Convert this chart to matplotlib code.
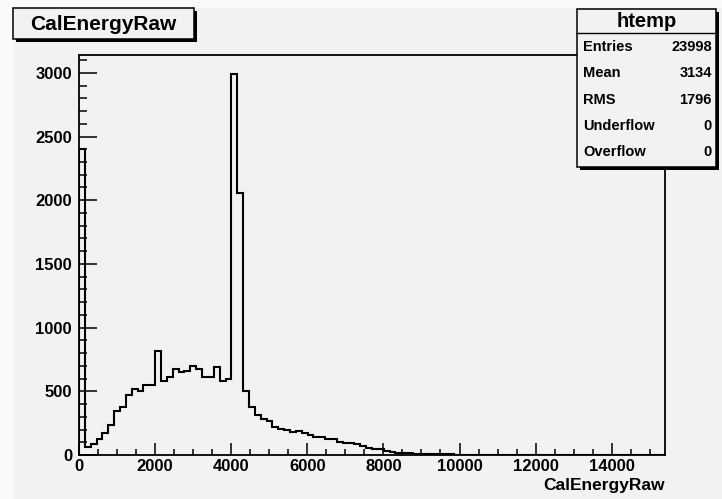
"""
plot.py — ROOT-style histogram of CalEnergyRaw (htemp).
"""

import numpy as np
import matplotlib
matplotlib.use("Agg")
import matplotlib.pyplot as plt
from matplotlib.patches import Rectangle
from matplotlib.ticker import MultipleLocator

plt.rcParams["font.family"] = ["Liberation Sans", "DejaVu Sans"]
plt.rcParams["font.weight"] = "bold"

# ── Datos ─────────────────────────────────────────────────────────────────────

x_min, x_max, n_bins = 0, 15400, 100
counts = [
    2400, 60, 86, 126, 170, 235, 345, 380, 470, 515, 502, 550, 550,
    816, 583, 610, 672, 649, 662, 701, 672, 610, 610, 688, 581, 594,
    2987, 2059,
    502, 380, 315, 282, 265, 222, 205, 200, 178, 190, 172, 158, 145, 140, 126, 123,
    105, 97, 97, 84, 71, 58, 44, 44,
    28, 22, 18, 14, 12, 10, 8, 7, 6, 4, 8, 6,
    0, 0, 0, 0, 0, 0, 0, 0, 0, 0, 0, 0, 0, 0, 0, 0, 0, 0,
    0, 0, 0, 0, 0, 0, 0, 0, 0, 0, 0, 0, 0, 0, 0, 0, 0, 0,
]
y_max = 3140

hist_name = "htemp"
var_name = "CalEnergyRaw"
stat_labels = ["Entries", "Mean", "RMS", "Underflow", "Overflow"]
stat_values = ["23998", "3134", "1796", "0", "0"]

# ── Figura ────────────────────────────────────────────────────────────────────

W, H = 722, 499
BG = "#f2f2f2"

fig = plt.figure(figsize=(W / 100, H / 100), dpi=100)
fig.patch.set_facecolor(BG)

ax_l, ax_r, ax_t, ax_b = 79, 665, 55, 455
ax = fig.add_axes([ax_l / W, 1 - ax_b / H, (ax_r - ax_l) / W, (ax_b - ax_t) / H])
ax.set_facecolor(BG)

edges = np.linspace(x_min, x_max, n_bins + 1)
ax.stairs(counts, edges, color="black", linewidth=1.5)

ax.set_xlim(x_min, x_max)
ax.set_ylim(0, y_max)

ax.xaxis.set_major_locator(MultipleLocator(2000))
ax.xaxis.set_minor_locator(MultipleLocator(500))
ax.yaxis.set_major_locator(MultipleLocator(500))
ax.yaxis.set_minor_locator(MultipleLocator(100))

ax.tick_params(axis="both", which="both", direction="in", width=1.1, colors="black",
               labelsize=12)
ax.tick_params(axis="y", which="major", length=13, pad=5)
ax.tick_params(axis="y", which="minor", length=6)
ax.tick_params(axis="x", which="major", length=8.5, pad=3)
ax.tick_params(axis="x", which="minor", length=4.3)
for lab in ax.get_xticklabels() + ax.get_yticklabels():
    lab.set_fontweight("bold")
for sp in ax.spines.values():
    sp.set_linewidth(1.3)

ax.set_xlabel(var_name, fontsize=12.5, fontweight="bold", loc="right", labelpad=3)

# ── Overlay en píxeles: cajas de título y estadística ─────────────────────────

ov = fig.add_axes([0, 0, 1, 1])
ov.set_xlim(0, W)
ov.set_ylim(H, 0)
ov.axis("off")

# borde claro a la izquierda y arriba
ov.add_patch(Rectangle((0, 0), 13, H, facecolor="#fafafa", edgecolor="none"))
ov.add_patch(Rectangle((0, 0), W, 8, facecolor="#fafafa", edgecolor="none"))


def caja(x0, y0, x1, y1, sombra=3):
    ov.add_patch(Rectangle((x0 + sombra, y0 + sombra), x1 - x0, y1 - y0,
                           facecolor="black", edgecolor="none", zorder=2))
    ov.add_patch(Rectangle((x0, y0), x1 - x0, y1 - y0, facecolor=BG,
                           edgecolor="black", linewidth=1.1, zorder=3))


caja(13, 8, 194, 39)
ov.text(103, 24, var_name, ha="center", va="center", fontsize=15,
        fontweight="bold", zorder=4)

caja(577, 9, 716, 167)
ov.plot([577, 716], [33, 33], color="black", linewidth=1.0, zorder=4)
ov.text(647, 21, hist_name, ha="center", va="center", fontsize=14.5,
        fontweight="bold", zorder=4)
for i, (lab, val) in enumerate(zip(stat_labels, stat_values)):
    y = 47 + i * 26.3
    ov.text(583, y, lab, ha="left", va="center", fontsize=10.5, fontweight="bold", zorder=4)
    ov.text(712, y, val, ha="right", va="center", fontsize=10.5, fontweight="bold", zorder=4)

fig.savefig("out.png", dpi=100, facecolor=fig.get_facecolor())
